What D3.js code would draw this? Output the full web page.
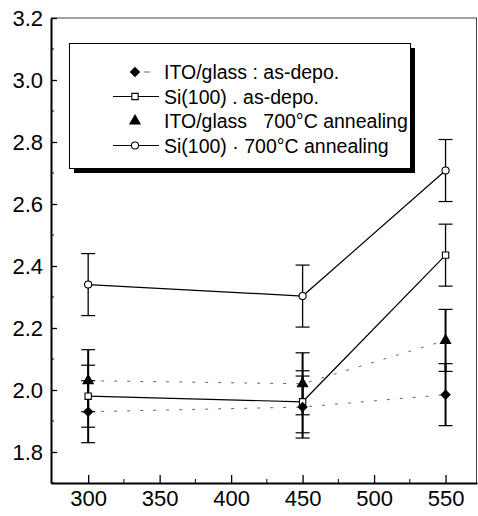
<!DOCTYPE html>
<html><head><meta charset="utf-8">
<script src="https://cdn.jsdelivr.net/npm/d3@7"></script>
<style>body{margin:0;background:#fff}svg{display:block}text{font-family:"Liberation Sans",Arial,sans-serif}</style>
</head><body><svg id="c" width="478" height="516"></svg>
<script>
const temps = [300, 450, 550];
const itoAsDepo = [1.93, 1.945, 1.985];
const siAsDepo = [1.98, 1.962, 2.435];
const itoAnneal = [2.03, 2.02, 2.16];
const siAnneal = [2.34, 2.303, 2.708];
const errItoAsDepo = [0.1, 0.1, 0.1];
const errSiAsDepo = [0.1, 0.1, 0.1];
const errItoAnneal = [0.1, 0.1, 0.1];
const errSiAnneal = [0.1, 0.1, 0.1];
const xTicks = [300, 350, 400, 450, 500, 550];
const yTicks = [1.8, 2.0, 2.2, 2.4, 2.6, 2.8, 3.0, 3.2];
const legendLabels = ["ITO/glass : as-depo.", "Si(100) . as-depo.", "ITO/glass   700\u00B0C annealing", "Si(100) \u00B7 700\u00B0C annealing"];

const svg = d3.select("#c");
const L = 51, R = 477, T = 18, B = 483;
const x = d3.scaleLinear().domain([274, 572]).range([L, R]);
const y = d3.scaleLinear().domain([1.7, 3.2]).range([B, T]);

// frame top/right (thin)
svg.append("line").attr("x1", L).attr("x2", R).attr("y1", T).attr("y2", T).attr("stroke", "#444").attr("stroke-width", 1);
svg.append("line").attr("x1", R - 0.5).attr("x2", R - 0.5).attr("y1", T).attr("y2", B).attr("stroke", "#444").attr("stroke-width", 1);

// axes
const yAxis = d3.axisLeft(y).tickValues(yTicks).tickFormat(d3.format(".1f")).tickSizeInner(-6).tickSizeOuter(0).tickPadding(14);
const gy = svg.append("g").attr("transform", `translate(${L},0)`).call(yAxis);
gy.select(".domain").attr("stroke", "#000").attr("stroke-width", 2);
gy.selectAll("text").attr("font-size", 22).attr("fill", "#000").attr("x", -8);
gy.selectAll("line").attr("stroke-width", 1.3);
const yMinor = d3.range(1.7, 3.21, 0.1).filter(v => !yTicks.some(t => Math.abs(t - v) < 1e-6));
gy.selectAll(".mn").data(yMinor).enter().append("line").attr("x1", 0).attr("x2", 3).attr("y1", d => y(d)).attr("y2", d => y(d)).attr("stroke", "#000");

const xAxis = d3.axisBottom(x).tickValues(xTicks).tickSizeInner(-8).tickSizeOuter(0).tickPadding(8);
const gx = svg.append("g").attr("transform", `translate(0,${B})`).call(xAxis);
gx.select(".domain").attr("stroke", "#000").attr("stroke-width", 2);
gx.selectAll("text").attr("font-size", 22).attr("fill", "#000").attr("y", 7);
gx.selectAll("line").attr("stroke-width", 1.3);
const xMinor = [325, 375, 425, 475, 525];
gx.selectAll(".mn").data(xMinor).enter().append("line").attr("x1", d => x(d)).attr("x2", d => x(d)).attr("y1", 0).attr("y2", -4).attr("stroke", "#000");

// error bars
function errBars(vals, errs, w, sw) {
  const g = svg.append("g").attr("stroke", "#000").attr("stroke-width", sw);
  temps.forEach((t, i) => {
    const cx = x(t), lo = y(vals[i] - errs[i]), hi = y(vals[i] + errs[i]);
    g.append("line").attr("x1", cx).attr("x2", cx).attr("y1", lo).attr("y2", hi);
    g.append("line").attr("x1", cx - w).attr("x2", cx + w).attr("y1", lo).attr("y2", lo).attr("stroke-width", 1.2);
    g.append("line").attr("x1", cx - w).attr("x2", cx + w).attr("y1", hi).attr("y2", hi).attr("stroke-width", 1.2);
  });
}
errBars(siAnneal, errSiAnneal, 7, 1.3);
errBars(siAsDepo, errSiAsDepo, 7, 1.3);
errBars(itoAnneal, errItoAnneal, 7, 2);
errBars(itoAsDepo, errItoAsDepo, 7, 2);

// lines
const line = d3.line().x((d, i) => x(temps[i])).y(d => y(d));
svg.append("path").attr("d", line(itoAsDepo)).attr("fill", "none").attr("stroke", "#666").attr("stroke-width", 1).attr("stroke-dasharray", "3,10");
svg.append("path").attr("d", line(itoAnneal)).attr("fill", "none").attr("stroke", "#666").attr("stroke-width", 1).attr("stroke-dasharray", "3,10");
svg.append("path").attr("d", line(siAsDepo)).attr("fill", "none").attr("stroke", "#000").attr("stroke-width", 1.2);
svg.append("path").attr("d", line(siAnneal)).attr("fill", "none").attr("stroke", "#000").attr("stroke-width", 1.2);

// markers
const diamondSq = { draw(ctx, size) { const r = Math.sqrt(size / 2); ctx.moveTo(0, -r); ctx.lineTo(r, 0); ctx.lineTo(0, r); ctx.lineTo(-r, 0); ctx.closePath(); } };
const sym = {
  diamond: d3.symbol().type(diamondSq).size(40),
  square: d3.symbol().type(d3.symbolSquare).size(40),
  triangle: d3.symbol().type(d3.symbolTriangle).size(45),
  circle: d3.symbol().type(d3.symbolCircle).size(40)
};
function markers(vals, s, filled) {
  svg.append("g").selectAll("path").data(vals).enter().append("path")
    .attr("d", sym[s]).attr("transform", (d, i) => `translate(${x(temps[i])},${y(d)})`)
    .attr("fill", filled ? "#000" : "#fff").attr("stroke", "#000").attr("stroke-width", 1.1);
}
markers(siAnneal, "circle", false);
markers(siAsDepo, "square", false);
markers(itoAnneal, "triangle", true);
markers(itoAsDepo, "diamond", true);

// legend
const lg = svg.append("g");
lg.append("rect").attr("x", 74).attr("y", 48).attr("width", 341).attr("height", 125).attr("fill", "#000");
lg.append("rect").attr("x", 69.5).attr("y", 43.5).attr("width", 341).attr("height", 125).attr("fill", "#fff").attr("stroke", "#000").attr("stroke-width", 1);
const rows = [72, 96.5, 121, 145.5];
const lsym = ["diamond", "square", "triangle", "circle"];
const lfill = [true, false, true, false];
rows.forEach((ry, i) => {
  if (i === 1 || i === 3) {
    lg.append("line").attr("x1", 113).attr("x2", 159).attr("y1", ry).attr("y2", ry).attr("stroke", "#000").attr("stroke-width", 1.2);
  }
  if (i === 0) {
    lg.append("line").attr("x1", 144).attr("x2", 150).attr("y1", ry).attr("y2", ry).attr("stroke", "#666").attr("stroke-width", 1);
  }
  lg.append("path").attr("d", sym[lsym[i]]).attr("transform", `translate(135,${ry})`)
    .attr("fill", lfill[i] ? "#000" : "#fff").attr("stroke", "#000").attr("stroke-width", 1.1);
  lg.append("text").attr("x", 164).attr("y", ry).attr("dy", "0.36em").attr("font-size", 19.5).attr("fill", "#000")
    .attr("xml:space", "preserve").style("white-space", "pre").text(legendLabels[i]);
});
</script></body></html>
